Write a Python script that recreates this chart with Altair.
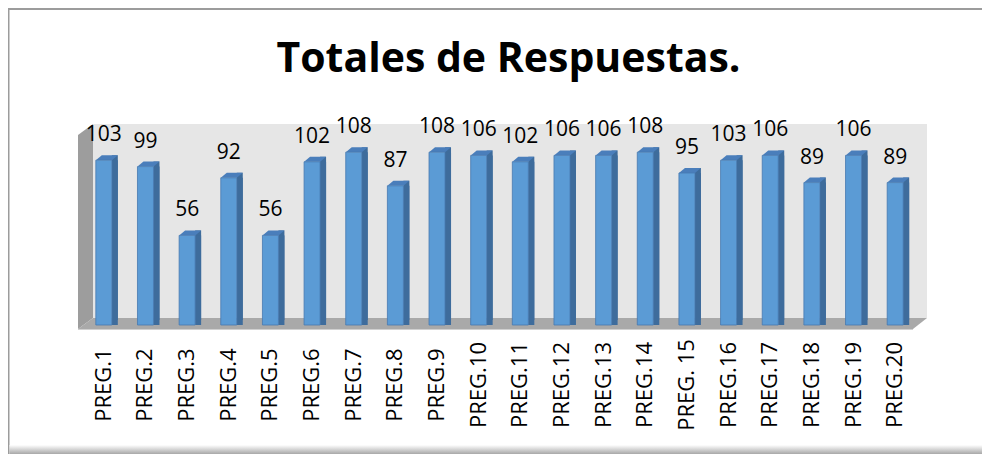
import altair as alt
import pandas as pd

categories = ["PREG.1", "PREG.2", "PREG.3", "PREG.4", "PREG.5", "PREG.6", "PREG.7",
              "PREG.8", "PREG.9", "PREG.10", "PREG.11", "PREG.12", "PREG.13", "PREG.14",
              "PREG. 15", "PREG.16", "PREG.17", "PREG.18", "PREG.19", "PREG.20"]
values = [103, 99, 56, 92, 56, 102, 108, 87, 108, 106, 102, 106, 106, 108, 95, 103, 106, 89, 106, 89]
title_text = "Totales de Respuestas."

df = pd.DataFrame({"cat": categories, "val": values})
one = pd.DataFrame({"a": [0]})

W, H = 833, 200
FONT = "Open Sans"

xenc = alt.X("cat:N", sort=categories, axis=None,
             scale=alt.Scale(paddingInner=0, paddingOuter=0))
yenc = alt.Y("val:Q", axis=None, scale=alt.Scale(domain=[0, 125], nice=False, zero=True))

base = alt.Chart(df)
deco = alt.Chart(one)

# frame
border_top = deco.mark_rule(color="#9c9c9c", strokeWidth=2).encode(
    x=alt.value(-74.5), x2=alt.value(W + 70), y=alt.value(-116))
border_left = deco.mark_rule(color="#9c9c9c", strokeWidth=2).encode(
    x=alt.value(-74.5), y=alt.value(-117), y2=alt.value(330))
shadow = deco.mark_rect(fill=alt.Gradient(
    gradient="linear",
    stops=[alt.GradientStop(color="#ffffff", offset=0), alt.GradientStop(color="#a8a8a8", offset=1)],
    x1=0, x2=0, y1=0, y2=1)).encode(
    x=alt.value(-73.5), x2=alt.value(W + 70), y=alt.value(320), y2=alt.value(329))

# walls and floor
back_wall = deco.mark_rect(color="#e6e6e6").encode(
    x=alt.value(10), x2=alt.value(844), y=alt.value(-1), y2=alt.value(193))
left_wall = deco.mark_point(shape="M -5 10 L 10 -1 L 10 193 L -5 204 Z", size=4, filled=True,
                            fill="#9d9d9d", strokeWidth=0, opacity=1).encode(
    x=alt.value(0), y=alt.value(0))
floor = deco.mark_point(shape="M -5 204 L 830 204 L 844 193 L 10 193 Z", size=4, filled=True,
                        fill="#a9a9a9", strokeWidth=0, opacity=1).encode(
    x=alt.value(0), y=alt.value(0))
floor_edge = deco.mark_rule(color="#d0d0d0", strokeWidth=1).encode(
    x=alt.value(-5), x2=alt.value(830), y=alt.value(204.5))

# 3D bars
side1 = base.mark_bar(width=6, xOffset=11, yOffset=-5, color="#3e6c9c").encode(x=xenc, y=yenc)
side2 = base.mark_bar(width=6, xOffset=11, color="#3e6c9c").encode(x=xenc, y=yenc)
top = base.mark_point(shape="M -8 0 L 8 0 L 14 -5 L -2 -5 Z", size=4, filled=True,
                      fill="#4a7ebb", strokeWidth=0, opacity=1).encode(x=xenc, y=yenc)
front = base.mark_bar(width=16, color="#5b9bd5", stroke="#4679b0", strokeWidth=0.8).encode(x=xenc, y=yenc)

labels = base.mark_text(font=FONT, fontSize=21, color="#000000", baseline="alphabetic",
                        align="center", dy=-19).encode(x=xenc, y=yenc, text="val:Q")

xlabels = base.mark_text(font=FONT, fontSize=22, color="#000000", angle=270,
                         align="center", baseline="middle").encode(
    x=xenc, y=alt.value(260), text="cat:N")

title = deco.mark_text(font=FONT, fontSize=41, fontWeight="bold", color="#000000",
                       align="center", baseline="alphabetic").encode(
    x=alt.value(425.5), y=alt.value(-53), text=alt.value(title_text))

chart = alt.layer(
    border_top, border_left, shadow, back_wall, left_wall, floor, floor_edge,
    side1, side2, top, front, labels, xlabels, title
).properties(
    width=W, height=H,
    autosize=alt.AutoSizeParams(type="none"),
    padding={"left": 75, "top": 117, "right": 66, "bottom": 129},
    background="#ffffff"
).configure_view(stroke=None)

chart.save("out.html", embed_options={"renderer": "svg", "actions": False})
